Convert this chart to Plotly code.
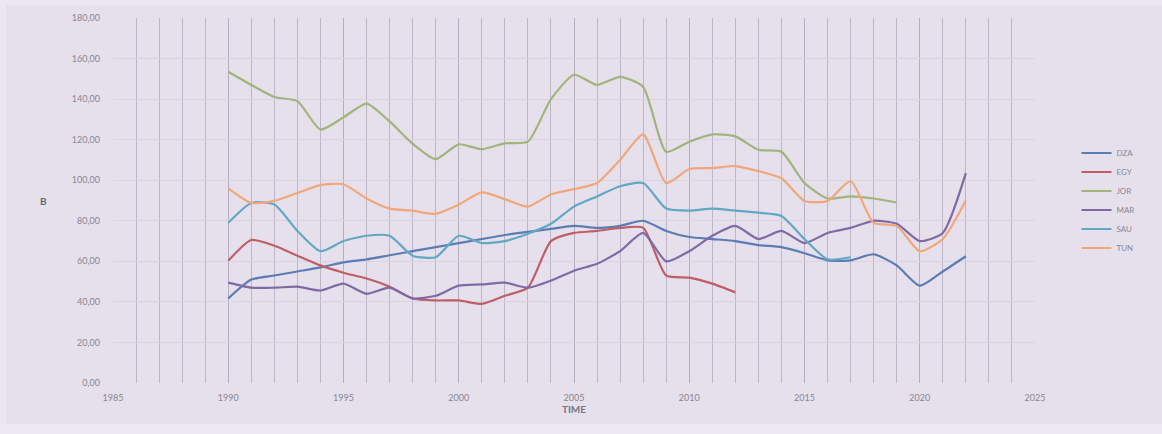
import plotly.graph_objects as go

years = list(range(1990, 2023))

dza = [41.7, 51, 53, 55, 57, 59.5, 61, 63, 65, 67, 69, 71, 73, 74.5, 76, 77.5, 76.5,
       77.5, 80, 75, 72, 71, 70, 68, 67, 64, 60.5, 60.5, 63.5, 58, 48, 55, 62.5]
egy = [60.3, 70.5, 67.7, 62.8, 58, 54.4, 51.5, 47.5, 41.7, 40.7, 40.7, 39, 43, 47, 70,
       74, 75, 76.5, 76.5, 53, 52, 49, 44.7] + [None] * 10
jor = [153.5, 147, 141, 139, 125, 131, 137.8, 129, 118, 110.4, 117.7, 115.3, 118.2, 119,
       140, 152, 147, 151, 146, 114, 119, 122.6, 121.6, 115, 114, 98.6, 91, 92, 91, 89] + [None] * 3
mar = [49.5, 47, 47, 47.5, 45.6, 49, 44, 47, 41.7, 43, 48, 48.6, 49.5, 47, 50.5, 55.4,
       58.8, 65, 74, 60, 65, 72.6, 77.5, 71, 75, 69, 74, 76.5, 80, 78.5, 70, 74, 103.5]
sau = [79, 88.8, 88, 75, 65, 70, 72.6, 72.6, 62.8, 62, 72.6, 69, 70, 73.6, 78.5, 87, 92,
       97, 98.6, 86, 85, 86, 85, 84, 82.4, 71, 61, 62] + [None] * 5
tun = [96, 88.8, 89.8, 93.7, 97.6, 98, 91, 86, 85, 83.4, 88, 94, 90.7, 87, 93, 95.6, 98.6,
       110, 122.6, 98.6, 105.5, 106, 107, 104.5, 101, 89.8, 89.8, 99.6, 79, 77.5, 65, 71, 90]

series = [
    ("DZA", dza, "#5B7DB4"),
    ("EGY", egy, "#BE5E66"),
    ("JOR", jor, "#A2B47B"),
    ("MAR", mar, "#7F6AA6"),
    ("SAU", sau, "#62A8C4"),
    ("TUN", tun, "#F0A77A"),
]

y_ticks = list(range(0, 181, 20))
y_labels = [f"{v},00" for v in y_ticks]
x_ticks = list(range(1985, 2026, 5))

bg = "#E5E0EC"
frame = "#ECE8F1"

fig = go.Figure()
for name, vals, color in series:
    fig.add_trace(go.Scatter(
        x=years, y=vals, name=name, mode="lines",
        line=dict(color=color, width=2.2, shape="spline", smoothing=0.6),
        connectgaps=False,
    ))

# chart area panel, slightly darker than the outer frame
fig.add_shape(type="rect", xref="paper", yref="paper", layer="below",
              x0=-0.116, x1=1.14, y0=-0.112, y1=1.035,
              fillcolor=bg, line=dict(width=0))

fig.add_annotation(text="<b>B</b>", xref="paper", yref="paper",
                   x=-0.081, y=0.50, showarrow=False,
                   font=dict(size=10, color="#6a6572"))

fig.update_layout(
    width=1162, height=434,
    margin=dict(l=113, r=127, t=16, b=51),
    paper_bgcolor=frame, plot_bgcolor="rgba(0,0,0,0)",
    font=dict(family="Lato, DejaVu Sans, sans-serif", size=9, color="#8a8592"),
    showlegend=True,
    legend=dict(
        x=1.045, y=0.5, xanchor="left", yanchor="middle",
        bgcolor="rgba(0,0,0,0)", font=dict(size=8, color="#8a8592"),
        tracegroupgap=0, itemwidth=30,
    ),
)

fig.update_xaxes(
    range=[1985, 2025], tickvals=x_ticks, ticktext=[str(v) for v in x_ticks],
    showgrid=True, gridcolor="#B5AEC0", gridwidth=1,
    minor=dict(dtick=1, showgrid=True, gridcolor="#BDB6C7", gridwidth=1),
    zeroline=False, showline=False, ticks="", ticklabelstandoff=8,
    tickfont=dict(size=9, color="#8a8592"),
    title=dict(text="<b>TIME</b>", font=dict(size=10, color="#7a7582"), standoff=2),
)
fig.update_yaxes(
    range=[0, 180], tickvals=y_ticks, ticktext=y_labels,
    showgrid=True, gridcolor="#DAD4E2", gridwidth=1,
    zeroline=False, showline=False, ticks="", ticklabelstandoff=12,
    tickfont=dict(size=9, color="#8a8592"),
)

fig.write_html("out.html")
